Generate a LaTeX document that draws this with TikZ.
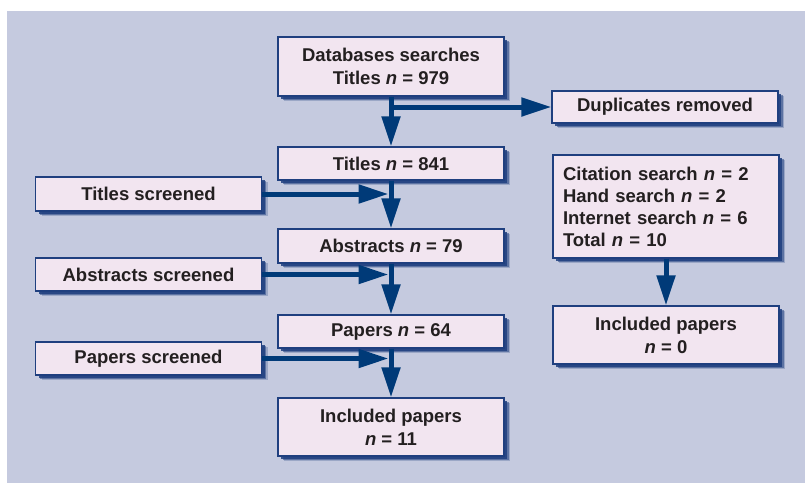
\documentclass[tikz,border=0pt]{standalone}
\usepackage{fontspec}
\setmainfont{Liberation Sans}
\usetikzlibrary{arrows.meta}
\usetikzlibrary{shadows}
\definecolor{bgblue}{HTML}{C5CADF}
\definecolor{boxpink}{HTML}{F2E5F0}
\definecolor{boxline}{HTML}{1F3F7F}
\definecolor{flowblue}{HTML}{003A78}
\definecolor{textgray}{HTML}{231F20}
\tikzset{prbox/.style = {draw=boxline, line width=1.2pt, fill=boxpink, text=textgray,
                         minimum width=226pt, inner sep=0pt, align=center,
                         font=\bfseries\fontsize{18.5}{23}\selectfont,
                         drop shadow={shadow xshift=6pt, shadow yshift=-4.5pt, fill=boxline, opacity=0.25},
                         drop shadow={shadow xshift=4.5pt, shadow yshift=-3.5pt, fill=boxline, opacity=0.5},
                         drop shadow={shadow xshift=3pt, shadow yshift=-2.5pt, fill=boxline, opacity=0.85}}}
\tikzset{flow/.style = {draw=flowblue, line width=5pt, -{Triangle[length=30pt, width=18pt]}}}
\begin{document}
\begin{tikzpicture}[x=1pt, y=-1pt]
    \useasboundingbox (0, 0) rectangle (805, 483);
    \fill [white] (0, 0) rectangle (805, 483);
    \fill [bgblue] (7, 11) rectangle (805, 483);

    \node [prbox, minimum height=59pt] (db) at (391, 66.5) {Databases searches\\Titles \textit{n} = 979};
    \node [prbox, minimum height=32pt] (dup) at (665, 107) {Duplicates removed};
    \node [prbox, minimum height=33pt] (ti) at (391, 163.5) {Titles \textit{n} = 841};
    \node [prbox, minimum height=34pt] (ts) at (148.5, 194) {Titles screened};
    \node [prbox, minimum height=34pt] (ab) at (391, 246) {Abstracts \textit{n} = 79};
    \node [prbox, minimum height=33pt] (as) at (148.5, 274.5) {Abstracts screened};
    \node [prbox, minimum height=33pt] (pa) at (391, 331.5) {Papers \textit{n} = 64};
    \node [prbox, minimum height=33pt] (ps) at (148.5, 358.5) {Papers screened};
    \node [prbox, minimum height=58pt] (inc) at (391, 427) {Included papers\\\textit{n} = 11};
    \node [prbox, minimum height=103pt, text width=206pt, inner xsep=10pt, align=left,
           font=\bfseries\fontsize{18.5}{22}\selectfont] (cit) at (666, 206.5)
          {Citation search \textit{n} = 2\\Hand search \textit{n} = 2\\Internet search \textit{n} = 6\\Total \textit{n} = 10};
    \node [prbox, minimum height=58pt] (inc2) at (666, 335) {Included papers\\\textit{n} = 0};

    \draw [flow] (db) -- (ti);
    \draw [flow] (db.south |- dup.west) -- (dup.west);
    \draw [flow] (ti) -- (ab);
    \draw [flow, shorten >=2.5pt] (ts) -- (ti.south |- ts.east);
    \draw [flow] (ab) -- (pa);
    \draw [flow, shorten >=2.5pt] (as) -- (ab.south |- as.east);
    \draw [flow] (pa) -- (inc);
    \draw [flow, shorten >=2.5pt] (ps) -- (pa.south |- ps.east);
    \draw [flow] (cit) -- (inc2);
\end{tikzpicture}
\end{document}
